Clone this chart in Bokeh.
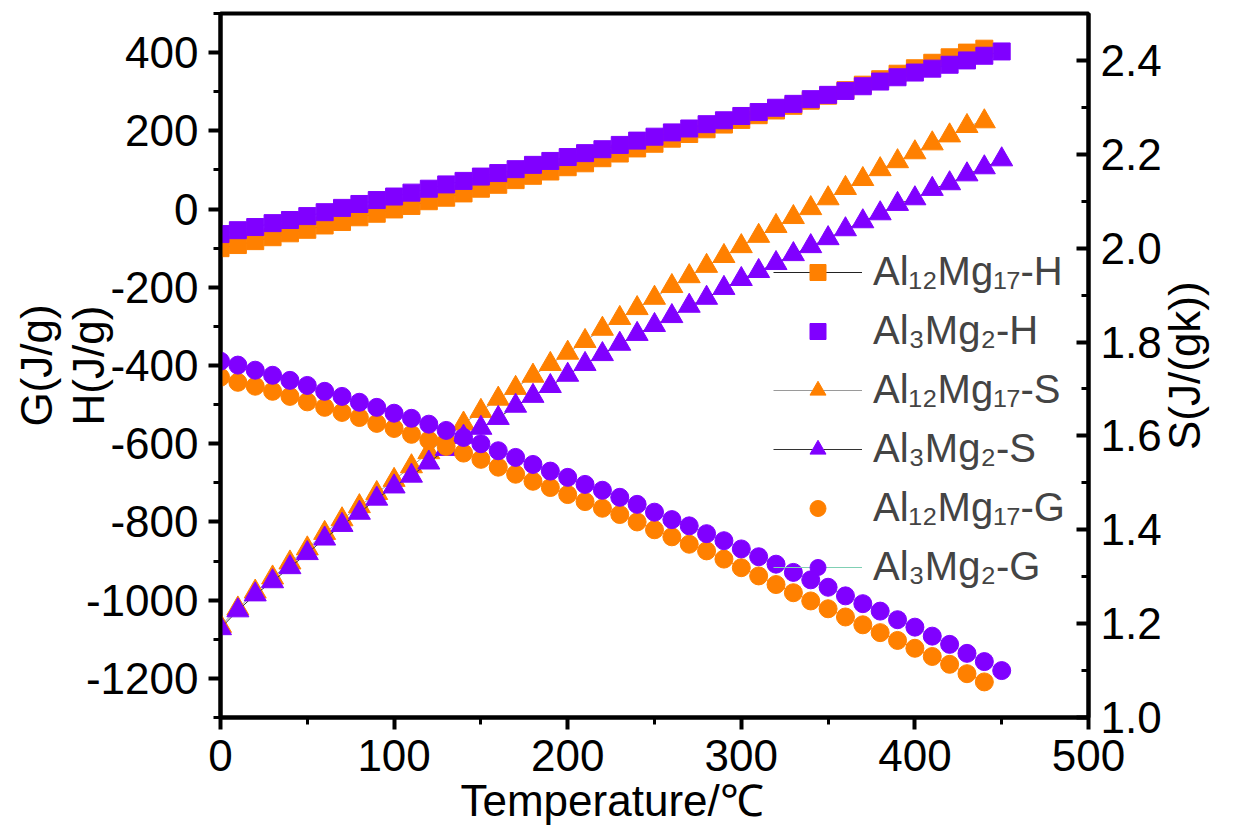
import json
from math import pi
from bokeh.plotting import figure
from bokeh.models import (Range1d, LinearAxis, SingleIntervalTicker, FixedTicker,
                          NumeralTickFormatter, CustomJSTickFormatter, Legend, LegendItem,
                          Title)
from bokeh.embed import file_html
from bokeh.resources import INLINE

# ---------------- data ----------------
T_A = [0, 10, 20, 30, 40, 50, 60, 70, 80, 90, 100, 110, 120, 130, 140, 150, 160, 170, 180, 190,
       200, 210, 220, 230, 240, 250, 260, 270, 280, 290, 300, 310, 320, 330, 340, 350, 360, 370,
       380, 390, 400, 410, 420, 430, 440]
T_B = [0, 10, 20, 30, 40, 50, 60, 70, 80, 90, 100, 110, 120, 130, 140, 150, 160, 170, 180, 190,
       200, 210, 220, 230, 240, 250, 260, 270, 280, 290, 300, 310, 320, 330, 340, 350, 360, 370,
       380, 390, 400, 410, 420, 430, 440, 450]

H_A = [-100, -92, -82, -72, -62, -53, -42, -33, -21, -12, -1, 8, 20, 29, 40, 52, 62, 74, 85, 96,
       107, 117, 130, 142, 155, 167, 180, 192, 204, 216, 228, 240, 252, 264, 277, 290, 304, 318,
       332, 346, 360, 374, 388, 400, 410]
H_B = [-64, -54, -46, -36, -28, -18, -8, 3, 13, 23, 32, 42, 52, 63, 72, 83, 92, 102, 113, 123,
       133, 143, 153, 164, 175, 185, 196, 206, 217, 227, 238, 248, 259, 269, 281, 292, 302, 314,
       326, 337, 349, 359, 369, 380, 392, 403]

S_A = [1.195, 1.232, 1.268, 1.298, 1.330, 1.360, 1.393, 1.422, 1.450, 1.478, 1.506, 1.535, 1.565,
       1.598, 1.626, 1.653, 1.679, 1.702, 1.728, 1.753, 1.777, 1.802, 1.828, 1.851, 1.872, 1.894,
       1.919, 1.940, 1.962, 1.983, 2.004, 2.026, 2.047, 2.066, 2.085, 2.106, 2.128, 2.147, 2.168,
       2.185, 2.204, 2.223, 2.240, 2.260, 2.270]
S_B = [1.190, 1.228, 1.262, 1.290, 1.320, 1.350, 1.381, 1.410, 1.436, 1.466, 1.492, 1.515, 1.543,
       1.572, 1.598, 1.617, 1.638, 1.664, 1.685, 1.706, 1.730, 1.753, 1.774, 1.796, 1.817, 1.836,
       1.855, 1.877, 1.894, 1.915, 1.934, 1.951, 1.968, 1.987, 2.004, 2.021, 2.040, 2.057, 2.074,
       2.094, 2.106, 2.126, 2.138, 2.157, 2.172, 2.189]

G_A = [-430, -443, -453, -466, -479, -493, -507, -520, -533, -548, -561, -576, -591, -607, -624,
       -640, -660, -678, -696, -712, -730, -748, -765, -781, -800, -820, -838, -857, -874, -895,
       -917, -938, -960, -981, -1002, -1022, -1043, -1063, -1083, -1103, -1123, -1144, -1164,
       -1188, -1209]
G_B = [-389, -399, -412, -425, -438, -451, -466, -479, -494, -507, -522, -535, -550, -566, -584,
       -600, -618, -635, -653, -670, -686, -704, -719, -737, -755, -775, -794, -810, -830, -848,
       -869, -889, -908, -929, -948, -967, -989, -1009, -1028, -1050, -1069, -1092, -1113, -1136,
       -1157, -1180]

LABELS = ["Al\u2081\u2082Mg\u2081\u2087-H", "Al\u2083Mg\u2082-H",
          "Al\u2081\u2082Mg\u2081\u2087-S", "Al\u2083Mg\u2082-S",
          "Al\u2081\u2082Mg\u2081\u2087-G", "Al\u2083Mg\u2082-G"]

X_LABEL = "Temperature/\u2103"
Y_LABEL_H = "H(J/g)"
Y_LABEL_G = "G(J/g)"
Y_LABEL_S = "S(J/(gk))"

# ---------------- styling ----------------
FONT = "Liberation Sans"
ORANGE = "#FF8000"
PURPLE = "#8000FF"
TICK_FS = "44px"
LABEL_FS = "44px"
S_TITLE_START = 1.57   # where the rotated S title starts on the S scale

p = figure(width=1236, height=834, output_backend="svg", toolbar_location=None,
           x_range=Range1d(0, 500), y_range=Range1d(-1300, 500),
           min_border_left=220, min_border_right=143, min_border_top=13,
           min_border_bottom=117)
p.extra_y_ranges = {"s": Range1d(1.0, 2.5)}
p.grid.visible = False
p.background_fill_color = "white"
p.border_fill_color = "white"
p.outline_line_color = "black"
p.outline_line_width = 4


def style_axis(ax):
    ax.axis_line_color = "black"
    ax.axis_line_width = 4
    ax.major_tick_line_color = "black"
    ax.major_tick_line_width = 4
    ax.major_tick_out = 12
    ax.major_tick_in = 0
    ax.minor_tick_line_color = "black"
    ax.minor_tick_line_width = 3
    ax.minor_tick_out = 7
    ax.minor_tick_in = 0
    ax.major_label_text_font = FONT
    ax.major_label_text_font_size = TICK_FS
    ax.major_label_text_color = "black"
    ax.major_label_standoff = 10
    ax.axis_label_text_font = FONT
    ax.axis_label_text_font_size = LABEL_FS
    ax.axis_label_text_font_style = "normal"
    ax.axis_label_text_color = "black"


def bare(ax):
    ax.axis_line_color = None
    ax.major_tick_line_color = None
    ax.minor_tick_line_color = None
    ax.major_tick_out = 0
    ax.major_tick_in = 0
    ax.minor_tick_out = 0
    ax.minor_tick_in = 0


# bottom axis; its title is a Title so that it can sit left of centre like the reference
xax = p.xaxis[0]
style_axis(xax)
xax.ticker = SingleIntervalTicker(interval=100, num_minor_ticks=2)
xax.formatter = NumeralTickFormatter(format="0")
p.add_layout(Title(text=X_LABEL, align="left", offset=240, standoff=0,
                   text_font=FONT, text_font_size=LABEL_FS, text_font_style="normal",
                   text_color="black"), "below")

# left axis (H title) and a bare outer axis carrying the G title
yax = p.yaxis[0]
style_axis(yax)
yax.ticker = SingleIntervalTicker(interval=200, num_minor_ticks=2)
yax.formatter = NumeralTickFormatter(format="0")
yax.axis_label = Y_LABEL_H
yax.axis_label_standoff = -30

gax = LinearAxis(ticker=FixedTicker(ticks=[]), axis_label=Y_LABEL_G)
style_axis(gax)
bare(gax)
gax.axis_label_standoff = 0
p.add_layout(gax, "left")

# right axis for S, ticks pointing inwards
sax = LinearAxis(y_range_name="s",
                 ticker=SingleIntervalTicker(interval=0.2, num_minor_ticks=2),
                 formatter=NumeralTickFormatter(format="0.0"))
style_axis(sax)
sax.major_tick_out = 0
sax.major_tick_in = 12
sax.minor_tick_out = 0
sax.minor_tick_in = 7
sax.major_label_standoff = 12
p.add_layout(sax, "right")

# S title, rotated to read bottom-to-top, drawn as the single label of a bare axis
stit = LinearAxis(y_range_name="s", ticker=FixedTicker(ticks=[S_TITLE_START]),
                  formatter=CustomJSTickFormatter(code="return " + json.dumps(Y_LABEL_S) + ";"))
style_axis(stit)
bare(stit)
stit.major_label_orientation = pi / 2
stit.major_label_standoff = 20
p.add_layout(stit, "right")

# ---------------- series ----------------
l1 = p.line(T_A, H_A, line_color="#222222", line_width=1)
s1 = p.scatter(T_A, H_A, marker="square", size=17, fill_color=ORANGE, line_color=ORANGE)
l2 = p.line(T_B, H_B, line_color="#5a3cff", line_width=1)
s2 = p.scatter(T_B, H_B, marker="square", size=17, fill_color=PURPLE, line_color=PURPLE)

l3 = p.line(T_A, S_A, y_range_name="s", line_color="#9a9a9a", line_width=1)
s3 = p.scatter(T_A, S_A, y_range_name="s", marker="triangle", size=22,
               fill_color=ORANGE, line_color=ORANGE)
l4 = p.line(T_B, S_B, y_range_name="s", line_color="#333333", line_width=1)
s4 = p.scatter(T_B, S_B, y_range_name="s", marker="triangle", size=22,
               fill_color=PURPLE, line_color=PURPLE)

l5 = p.line(T_A, G_A, line_color=ORANGE, line_width=1)
s5 = p.scatter(T_A, G_A, marker="circle", size=18, fill_color=ORANGE, line_color=ORANGE)
l6 = p.line(T_B, G_B, line_color="#80d0b4", line_width=1)
s6 = p.scatter(T_B, G_B, marker="circle", size=18, fill_color=PURPLE, line_color=PURPLE)

items = [
    LegendItem(label=LABELS[0], renderers=[l1, s1]),
    LegendItem(label=LABELS[1], renderers=[s2]),
    LegendItem(label=LABELS[2], renderers=[l3, s3]),
    LegendItem(label=LABELS[3], renderers=[l4, s4]),
    LegendItem(label=LABELS[4], renderers=[s5]),
    LegendItem(label=LABELS[5], renderers=[l6, s6]),
]
legend = Legend(items=items, location=(553, 128), padding=0, margin=0,
                border_line_color=None, background_fill_alpha=0,
                label_text_font=FONT, label_text_font_size="40px",
                glyph_width=89, glyph_height=40, label_height=40,
                label_standoff=11, spacing=14)
p.add_layout(legend)

open("out.html", "w").write(file_html(p, INLINE))
